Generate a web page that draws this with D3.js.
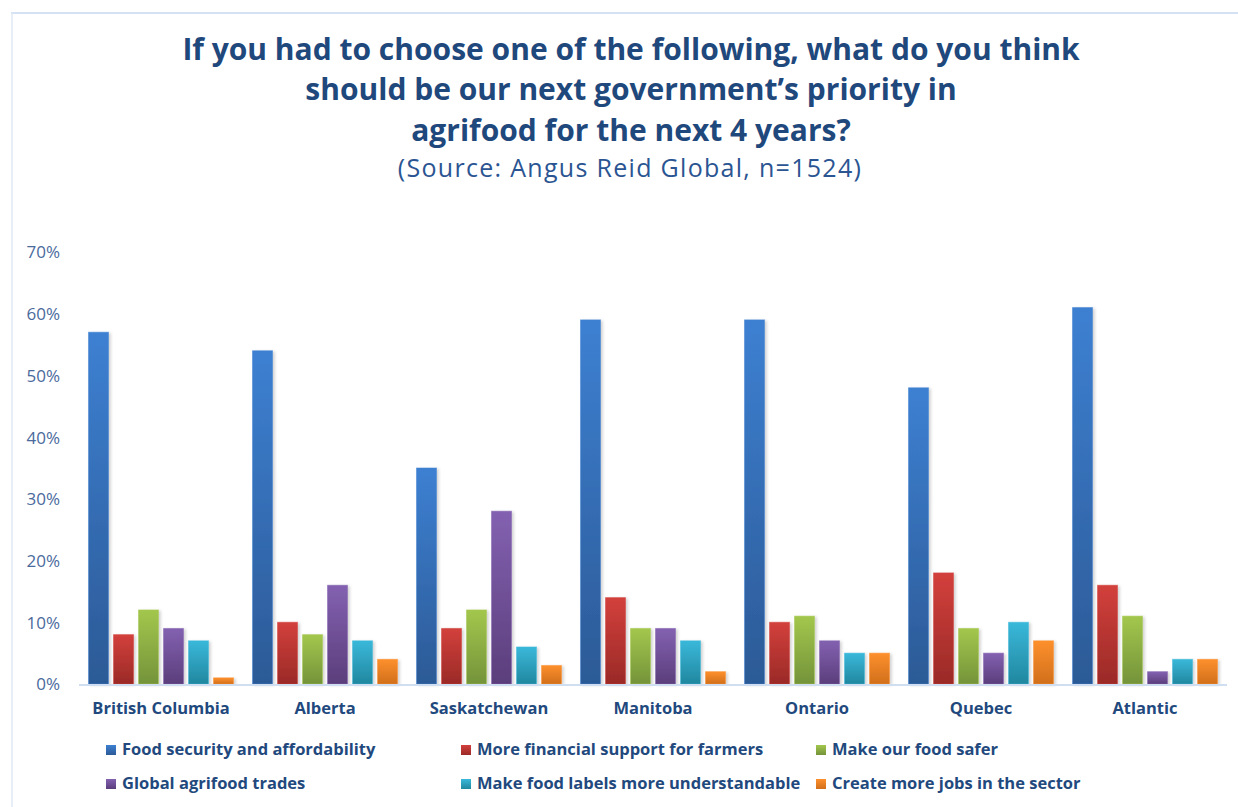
<!DOCTYPE html>
<html>
<head>
<meta charset="utf-8">
<script src="https://cdn.jsdelivr.net/npm/d3@7"></script>
<style>
  body { margin: 0; background: #ffffff; }
  svg { display: block; font-family: "Open Sans", sans-serif; }
</style>
</head>
<body>
<svg id="chart" width="1238" height="807"></svg>
<script>
// data
var regions = ["British Columbia", "Alberta", "Saskatchewan", "Manitoba", "Ontario", "Quebec", "Atlantic"];
var series = ["Food security and affordability", "More financial support for farmers", "Make our food safer",
              "Global agrifood trades", "Make food labels more understandable", "Create more jobs in the sector"];
var foodSecurity = [57, 54, 35, 59, 59, 48, 61];
var financialSupport = [8, 10, 9, 14, 10, 18, 16];
var foodSafer = [12, 8, 12, 9, 11, 9, 11];
var agrifoodTrades = [9, 16, 28, 9, 7, 5, 2];
var foodLabels = [7, 7, 6, 7, 5, 10, 4];
var moreJobs = [1, 4, 3, 2, 5, 7, 4];
var yTicks = [0, 10, 20, 30, 40, 50, 60, 70];

var values = [foodSecurity, financialSupport, foodSafer, agrifoodTrades, foodLabels, moreJobs];

// gradient colours top -> bottom
var colTop = ["#3d80d2", "#d3403c", "#a3c74d", "#8361b1", "#3ab8da", "#fd902d"];
var colBot = ["#2c5a96", "#9a2a27", "#74933a", "#5b3e7b", "#21879f", "#d16f1b"];

var svg = d3.select("#chart");
var defs = svg.append("defs");

series.forEach(function(s, i) {
    var g = defs.append("linearGradient")
        .attr("id", "grad" + i)
        .attr("x1", 0).attr("y1", 0).attr("x2", 0).attr("y2", 1);
    g.append("stop").attr("offset", "0%").attr("stop-color", colTop[i]);
    g.append("stop").attr("offset", "100%").attr("stop-color", colBot[i]);
});

var shadow = defs.append("filter").attr("id", "shadow")
    .attr("x", "-20%").attr("y", "-5%").attr("width", "150%").attr("height", "115%");
shadow.append("feDropShadow")
    .attr("dx", 2).attr("dy", 1).attr("stdDeviation", 1.5)
    .attr("flood-color", "#000").attr("flood-opacity", 0.18);

// frame
svg.append("line").attr("x1", 11).attr("x2", 1238).attr("y1", 13).attr("y2", 13)
    .attr("stroke", "#d5e2f3").attr("stroke-width", 2);
svg.append("line").attr("x1", 12).attr("x2", 12).attr("y1", 13).attr("y2", 807)
    .attr("stroke", "#dfe8f5").attr("stroke-width", 1.5);

// title
var titleLines = ["If you had to choose one of the following, what do you think",
                  "should be our next government\u2019s priority in",
                  "agrifood for the next 4 years?"];
var titleY = [60, 100, 140.5];
svg.selectAll(".title").data(titleLines).enter().append("text")
    .attr("class", "title")
    .attr("x", 631)
    .attr("y", function(d, i) { return titleY[i]; })
    .attr("text-anchor", "middle")
    .attr("font-size", 30)
    .attr("font-weight", "bold")
    .attr("fill", "#1f487c")
    .text(function(d) { return d; });

svg.append("text")
    .attr("x", 630).attr("y", 177)
    .attr("text-anchor", "middle")
    .attr("font-size", 25)
    .attr("letter-spacing", 1.3)
    .attr("fill", "#2b5592")
    .text("(Source: Angus Reid Global, n=1524)");

// scales
var x0 = d3.scaleBand().domain(regions).range([79, 1227]);
var x1 = d3.scaleBand().domain(d3.range(series.length))
    .range([0, x0.bandwidth()]).paddingInner(0.2).paddingOuter(0.38);
var y = d3.scaleLinear().domain([0, 70]).range([684, 252]);

// y axis labels
var yAxis = svg.append("g")
    .attr("transform", "translate(60,0)")
    .call(d3.axisLeft(y).tickValues(yTicks).tickSize(0).tickPadding(0)
        .tickFormat(function(d) { return d + "%"; }));
yAxis.select(".domain").remove();
yAxis.selectAll("text")
    .attr("font-family", "'Open Sans', sans-serif")
    .attr("font-size", 17)
    .attr("fill", "#4a6a9c")
    .attr("dy", "0.35em");

// bars
var groups = svg.selectAll(".region").data(regions).enter().append("g")
    .attr("class", "region")
    .attr("transform", function(d) { return "translate(" + x0(d) + ",0)"; });

groups.selectAll("rect")
    .data(function(d, r) { return values.map(function(v, i) { return { s: i, v: v[r] }; }); })
    .enter().append("rect")
    .attr("x", function(d) { return x1(d.s); })
    .attr("y", function(d) { return y(d.v); })
    .attr("width", x1.bandwidth())
    .attr("height", function(d) { return y(0) - y(d.v); })
    .attr("fill", function(d) { return "url(#grad" + d.s + ")"; })
    .attr("stroke", function(d) { return colTop[d.s]; })
    .attr("stroke-opacity", 0.5)
    .attr("stroke-width", 1)
    .attr("filter", "url(#shadow)");

// x axis line
svg.append("line")
    .attr("x1", x0.range()[0]).attr("x2", x0.range()[1])
    .attr("y1", y(0) + 1).attr("y2", y(0) + 1)
    .attr("stroke", "#d0def1").attr("stroke-width", 2);

// category labels
svg.selectAll(".cat").data(regions).enter().append("text")
    .attr("class", "cat")
    .attr("x", function(d) { return x0(d) + x0.bandwidth() / 2; })
    .attr("y", 714)
    .attr("text-anchor", "middle")
    .attr("font-size", 16.5)
    .attr("font-weight", "bold")
    .attr("fill", "#22497d")
    .text(function(d) { return d; });

// legend
var legendCols = [106, 461, 816];
var legendRows = [755, 789];
var legend = svg.selectAll(".legend").data(series).enter().append("g")
    .attr("class", "legend")
    .attr("transform", function(d, i) {
        return "translate(" + legendCols[i % 3] + "," + legendRows[Math.floor(i / 3)] + ")";
    });
legend.append("rect")
    .attr("x", 0).attr("y", -10)
    .attr("width", 10).attr("height", 10)
    .attr("fill", function(d, i) { return "url(#grad" + i + ")"; });
legend.append("text")
    .attr("x", 16).attr("y", 0)
    .attr("font-size", 16.5)
    .attr("font-weight", "bold")
    .attr("fill", "#22497d")
    .text(function(d) { return d; });
</script>
</body>
</html>
